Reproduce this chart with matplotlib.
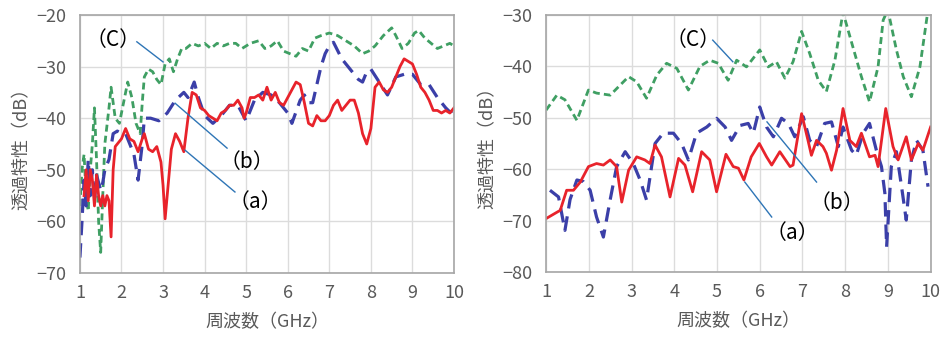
import numpy as np
import matplotlib
matplotlib.use("Agg")
import matplotlib.pyplot as plt

plt.rcParams['font.family'] = ['Noto Sans CJK JP', 'DejaVu Sans']

# 左図 (a) 赤実線
left_a_x = [1.1, 1.15, 1.2, 1.25, 1.3, 1.35, 1.4, 1.45, 1.5, 1.55, 1.6, 1.65, 1.7, 1.75, 1.8, 1.85,
            1.9, 2.0, 2.1, 2.2, 2.3, 2.4, 2.5, 2.55, 2.65, 2.75, 2.85, 2.95, 3.0, 3.05, 3.1, 3.2,
            3.3, 3.4, 3.5, 3.6, 3.7, 3.8, 3.9, 4.0, 4.1, 4.2, 4.3, 4.4, 4.5, 4.6, 4.7, 4.8, 4.9,
            4.95, 5.0, 5.1, 5.2, 5.3, 5.4, 5.5, 5.6, 5.7, 5.8, 5.9, 6.0, 6.1, 6.2, 6.3, 6.4, 6.5,
            6.6, 6.7, 6.8, 6.9, 7.0, 7.1, 7.2, 7.3, 7.4, 7.5, 7.6, 7.7, 7.8, 7.9, 8.0, 8.1, 8.2,
            8.3, 8.4, 8.5, 8.6, 8.7, 8.8, 8.9, 9.0, 9.1, 9.2, 9.3, 9.4, 9.5, 9.6, 9.7, 9.8, 9.9, 10.0]
left_a_y = [-55, -50, -56, -50, -52, -57, -51, -55, -57, -55, -57, -55, -56, -63, -50, -45.5,
            -45, -44, -42, -44, -44.5, -46.5, -44, -43, -46, -46.5, -45.5, -48.5, -53, -59.5, -55, -46,
            -43, -44.5, -46.5, -40, -35, -35.5, -38, -38.5, -39.5, -40, -40.5, -39, -38.5, -37.5, -37.5, -36.5, -38,
            -40, -39, -36, -36, -35.5, -36.5, -34, -36.5, -35, -37, -37.5, -36, -34.5, -33, -33.5, -37, -41,
            -41.5, -39.5, -40.5, -40.5, -39.5, -37.5, -36.5, -38.5, -37.5, -36.5, -36.5, -39, -43, -45, -42, -34, -33,
            -34.5, -35, -34, -32, -30, -28.5, -29, -29.5, -31.5, -34, -35, -36.5, -38.5, -38.5, -39, -38.5, -39, -38]

# 左図 (b) 青破線
left_b_x = [1.0, 1.05, 1.1, 1.15, 1.2, 1.25, 1.3, 1.35, 1.4, 1.5, 1.55, 1.6, 1.7, 1.8, 1.9, 2.0,
            2.1, 2.2, 2.3, 2.4, 2.5, 2.55, 2.7, 2.9, 3.1, 3.3, 3.5, 3.6, 3.75, 3.85, 4.0, 4.2, 4.4,
            4.6, 4.8, 5.0, 5.2, 5.4, 5.6, 5.8, 6.0, 6.1, 6.3, 6.4, 6.5, 6.6, 6.7, 6.8, 6.9, 7.0,
            7.1, 7.3, 7.5, 7.7, 7.8, 7.9, 8.0, 8.2, 8.4, 8.6, 8.8, 9.0, 9.2, 9.4, 9.6, 9.8, 9.9, 10.0]
left_b_y = [-67, -60, -52, -57, -48, -55, -50, -56, -51, -54, -52.5, -50, -48, -43, -42.5, -43,
            -43, -45, -47, -52, -45, -40, -40, -40.5, -39, -36.5, -35, -36, -33, -36, -39.5, -41, -39.5,
            -37.5, -37.5, -40.5, -36.5, -35, -35.5, -37, -39, -41, -36.5, -35.5, -37, -37, -33.5, -30, -27.5, -26,
            -25.3, -28.5, -30.5, -32.5, -33, -31, -30.5, -33, -35.5, -32, -31.5, -31.5, -33.5, -33.5, -36, -38, -38.8, -38.5]

# 左図 (c) 緑破線
left_c_x = [1.0, 1.05, 1.1, 1.15, 1.2, 1.25, 1.3, 1.35, 1.4, 1.45, 1.5, 1.55, 1.6, 1.7, 1.75, 1.85,
            1.95, 2.05, 2.15, 2.25, 2.35, 2.45, 2.5, 2.55, 2.65, 2.75, 2.85, 2.95, 3.05, 3.15, 3.25, 3.35,
            3.45, 3.55, 3.7, 3.85, 4.0, 4.15, 4.3, 4.45, 4.6, 4.75, 4.9, 5.0, 5.1, 5.3, 5.45, 5.6,
            5.75, 5.9, 6.05, 6.2, 6.35, 6.5, 6.65, 6.8, 7.0, 7.2, 7.4, 7.6, 7.8, 7.95, 8.1, 8.3,
            8.5, 8.6, 8.75, 8.9, 9.05, 9.15, 9.3, 9.45, 9.6, 9.75, 9.9, 10.0]
left_c_y = [-57, -50, -47, -55, -58, -50, -45, -38, -48, -60, -66, -55, -45, -38, -34, -40,
            -41, -37, -33, -36, -41, -43, -37, -32, -30.5, -31, -32.5, -33.5, -29.5, -28.5, -31, -28.5,
            -26.5, -26.5, -25.5, -26, -25.5, -26.5, -25.5, -26, -25.5, -25.5, -26.5, -26, -25.5, -25, -26.5, -26,
            -25, -27, -27.5, -28, -26.5, -27, -24.5, -24, -23.5, -24, -25, -26, -27.5, -27, -26, -24,
            -22.5, -24, -26.5, -25.5, -23.5, -23, -24.5, -25.5, -26.5, -26, -25.5, -26]

# 右図 (a) 赤実線
right_a_x = [1.0, 1.33, 1.48, 1.64, 1.8, 1.99, 2.18, 2.34, 2.5, 2.65, 2.77, 2.93, 3.12, 3.31, 3.43,
             3.55, 3.7, 3.9, 4.1, 4.25, 4.43, 4.64, 4.83, 4.99, 5.21, 5.38, 5.5, 5.63, 5.8, 5.99,
             6.16, 6.28, 6.47, 6.71, 6.78, 6.98, 7.13, 7.21, 7.33, 7.48, 7.56, 7.68, 7.8, 7.95, 8.11,
             8.26, 8.38, 8.57, 8.7, 8.77, 8.95, 9.12, 9.24, 9.43, 9.55, 9.71, 9.82, 10.0]
right_a_y = [-69.6, -68, -64.1, -64.1, -62.5, -59.5, -58.9, -59.2, -58.2, -59.5, -66.4, -60.2, -57.6, -58.2, -58.9,
             -55.3, -57.6, -65.4, -57.9, -59.2, -64.4, -56.6, -58.2, -64.4, -57.1, -59.5, -59.8, -62.1, -57.6, -55,
             -57.6, -59.2, -56.6, -59.5, -59.2, -49.2, -54.4, -57.3, -54.4, -55.6, -56.9, -60.2, -56.3, -48.2, -54.4,
             -55.6, -53, -57.6, -57.3, -59.5, -48.2, -55.6, -58.2, -53.7, -58.2, -55, -56.3, -51.8]

# 右図 (b) 青破線
right_b_x = [1.09, 1.29, 1.44, 1.56, 1.72, 1.87, 2.03, 2.18, 2.34, 2.5, 2.65, 2.85, 3.04, 3.2, 3.35,
             3.55, 3.74, 3.98, 4.17, 4.33, 4.52, 4.76, 4.99, 5.19, 5.34, 5.54, 5.73, 5.85, 6.0, 6.16,
             6.32, 6.51, 6.67, 6.82, 7.02, 7.17, 7.33, 7.52, 7.68, 7.84, 7.95, 8.15, 8.26, 8.42, 8.57,
             8.73, 8.85, 8.93, 8.97, 9.08, 9.2, 9.32, 9.43, 9.55, 9.67, 9.82, 9.94]
right_b_y = [-64.1, -65.4, -71.9, -65.9, -62.1, -62.4, -64.1, -69.3, -73.2, -65.9, -59.5, -56.6, -58.9, -62.1, -66,
             -55, -53, -53, -55, -58.2, -53, -51.8, -50.1, -51.8, -54.4, -51.5, -51.1, -53, -47.9, -51.8,
             -53.7, -50.1, -51.1, -53.7, -49.8, -54.4, -55.6, -51.1, -50.8, -55.6, -51.8, -56.3, -57.3, -53, -51.1,
             -56.3, -59.5, -64.7, -75.1, -59.5, -56.6, -63.4, -69.9, -58.2, -54.4, -56.3, -63.4]

# 右図 (c) 緑破線
right_c_x = [1.0, 1.25, 1.44, 1.72, 1.99, 2.18, 2.5, 2.69, 2.93, 3.12, 3.35, 3.59, 3.82, 4.06, 4.33,
             4.6, 4.83, 5.03, 5.26, 5.46, 5.69, 6.0, 6.2, 6.39, 6.59, 6.78, 6.98, 7.17, 7.37, 7.56,
             7.76, 7.95, 8.18, 8.38, 8.57, 8.77, 8.89, 9.0, 9.2, 9.36, 9.55, 9.75, 9.94]
right_c_y = [-48.5, -45.6, -46.5, -50.5, -44.6, -45.2, -45.6, -44, -42, -43, -46.2, -41.7, -39.4, -40.4, -44.6,
             -40, -38.8, -39.4, -42.7, -38.8, -40.1, -36.8, -40.1, -39.1, -42.3, -39.1, -33.2, -37.5, -42.7, -44.9,
             -38.8, -29.5, -36.2, -42, -46.9, -40.1, -31, -29, -36.8, -42, -45.9, -40.1, -29]

red = '#e8232b'
blue = '#3b3fa8'
green = '#3f9f63'
gray = '#595959'
leader = '#2e75b6'

fig = plt.figure(figsize=(9.4, 3.4), dpi=100)
ax1 = fig.add_axes([0.085, 0.197, 0.398, 0.759])
ax2 = fig.add_axes([0.581, 0.2, 0.409, 0.756])


def style_axis(ax, ylo, yhi):
    ax.set_xlim(1, 10)
    ax.set_ylim(ylo, yhi)
    ax.set_xticks(range(1, 11))
    ax.set_yticks(range(ylo, yhi + 1, 10))
    ax.grid(True, color='#dcdcdc', lw=1)
    ax.set_axisbelow(True)
    ax.tick_params(length=0, labelsize=13, colors=gray)
    ax.tick_params(axis='x', pad=8)
    ax.tick_params(axis='y', pad=10)
    for s in ax.spines.values():
        s.set_color('#a6a6a6')
        s.set_linewidth(1.2)
    ax.set_xlabel('周波数（GHz）', fontsize=13, color=gray, labelpad=8)
    ax.set_ylabel('透過特性（dB）', fontsize=13, color=gray, labelpad=4)


def draw(ax, a, b, c):
    ax.plot(c[0], c[1], color=green, lw=2, dashes=(2.5, 1.5))
    ax.plot(b[0], b[1], color=blue, lw=2.3, dashes=(4.5, 2.5))
    ax.plot(a[0], a[1], color=red, lw=2)


draw(ax1, (left_a_x, left_a_y), (left_b_x, left_b_y), (left_c_x, left_c_y))
draw(ax2, (right_a_x, right_a_y), (right_b_x, right_b_y), (right_c_x, right_c_y))
style_axis(ax1, -70, -20)
style_axis(ax2, -80, -30)

# 注記と引き出し線
def label(ax, text, txy, p0, p1):
    ax.plot([p0[0], p1[0]], [p0[1], p1[1]], color=leader, lw=1)
    ax.text(txy[0], txy[1], text, fontsize=15, ha='center', va='center', color='black')

label(ax1, '（C）', (1.79, -24.8), (2.37, -25.2), (3.0, -29.1))
label(ax1, '（b）', (5.02, -48.5), (3.29, -37.1), (4.54, -45.8))
label(ax1, '（a）', (5.21, -56.2), (3.53, -46.2), (4.73, -54.3))
label(ax2, '（C）', (4.44, -34.9), (4.9, -34.9), (5.37, -39.1))
label(ax2, '（b）', (7.80, -66.6), (6.17, -50.8), (7.33, -62.5))
label(ax2, '（a）', (6.77, -72.4), (5.65, -62.5), (6.28, -69.3))

fig.savefig('out.png', dpi=100)
